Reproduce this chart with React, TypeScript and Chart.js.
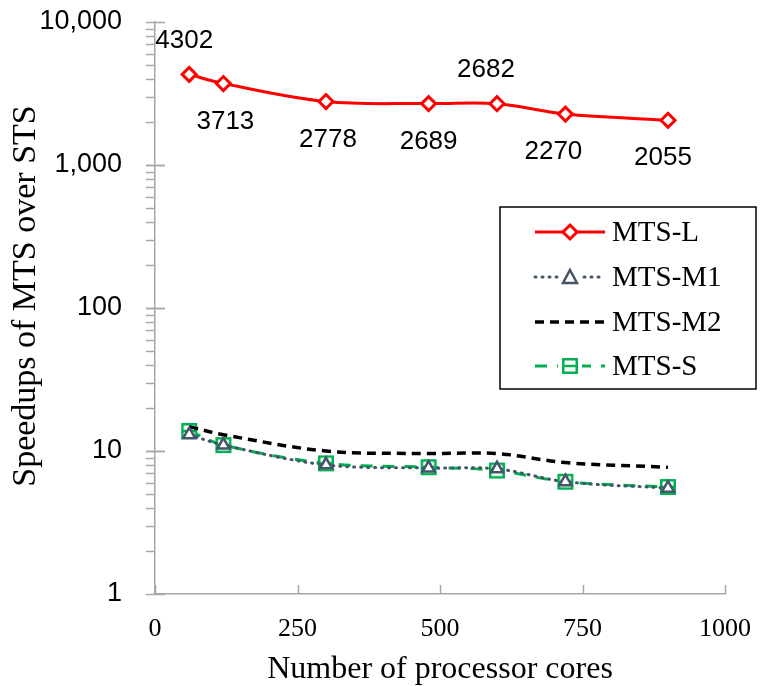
import React, { useEffect, useRef } from "react";
import { Chart, registerables } from "chart.js";

Chart.register(...registerables);

const cores = [60, 120, 300, 480, 600, 720, 900];
const mtsL = [4302, 3713, 2778, 2689, 2682, 2270, 2055];
const mtsM1 = [13, 11, 8, 7.6, 7.5, 6.1, 5.5];
const mtsM2 = [14.8, 13, 10, 9.6, 9.6, 8.3, 7.7];
const mtsS = [13.8, 11, 8.2, 7.7, 7.3, 6.1, 5.6];
const seriesNames = ["MTS-L", "MTS-M1", "MTS-M2", "MTS-S"];
const xTicks = [0, 250, 500, 750, 1000];
const yMajorTicks = [1, 10, 100, 1000, 10000];

// label placement for MTS-L values (style only)
const labelAbove = [true, false, false, false, true, false, false];
const labelDx = [-5, 2, 2, 0, -11, -12, -5];

const RED = "#FF0000";
const SLATE = "#44546A";
const GREEN = "#00B050";
const AXIS = "#A6A6A6";
const SERIF = "'Liberation Serif', 'Times New Roman', serif";
const SANS = "'Liberation Sans', Arial, sans-serif";

function makeSquareMarker(): HTMLCanvasElement {
  const c = document.createElement("canvas");
  c.width = 18;
  c.height = 18;
  const ctx = c.getContext("2d")!;
  ctx.fillStyle = "#fff";
  ctx.fillRect(2, 2, 14, 14);
  ctx.strokeStyle = GREEN;
  ctx.lineWidth = 2.5;
  ctx.strokeRect(2.25, 2.25, 13.5, 13.5);
  ctx.beginPath();
  ctx.moveTo(2, 9);
  ctx.lineTo(16, 9);
  ctx.stroke();
  return c;
}

export default function App() {
  const ref = useRef<HTMLCanvasElement>(null);
  useEffect(() => {
    const sq = makeSquareMarker();

    const axisTicksPlugin = {
      id: "axisTicks",
      afterDraw(chart: any) {
        const ctx = chart.ctx;
        const y = chart.scales.y;
        const x = chart.scales.x;
        const area = chart.chartArea;
        ctx.save();
        ctx.strokeStyle = AXIS;
        ctx.lineWidth = 1.5;
        for (let d = 1; d < 10000; d *= 10) {
          for (let k = 1; k <= 10; k++) {
            const v = d * k;
            const py = Math.round(y.getPixelForValue(v)) + 0.5;
            const major = yMajorTicks.includes(v);
            ctx.beginPath();
            ctx.moveTo(area.left - 9, py);
            ctx.lineTo(area.left + (major ? 10 : 0), py);
            ctx.stroke();
          }
        }
        xTicks.forEach((t) => {
          const px = Math.round(x.getPixelForValue(t)) + 0.5;
          ctx.beginPath();
          ctx.moveTo(px, area.bottom);
          ctx.lineTo(px, area.bottom - 9);
          ctx.stroke();
        });
        ctx.restore();
      },
    };

    const labelsPlugin = {
      id: "valueLabels",
      afterDatasetsDraw(chart: any) {
        const ctx = chart.ctx;
        const meta = chart.getDatasetMeta(0);
        ctx.save();
        ctx.font = `26px ${SANS}`;
        ctx.fillStyle = "#000";
        ctx.textAlign = "center";
        ctx.textBaseline = "middle";
        meta.data.forEach((pt: any, i: number) => {
          const dy = labelAbove[i] ? -34 : 38;
          ctx.fillText(String(mtsL[i]), pt.x + labelDx[i], pt.y + dy);
        });
        ctx.restore();
      },
    };

    const yTitlePlugin = {
      id: "yTitle",
      afterDraw(chart: any) {
        const ctx = chart.ctx;
        const area = chart.chartArea;
        ctx.save();
        ctx.translate(26, (area.top + area.bottom) / 2 - 12);
        ctx.rotate(-Math.PI / 2);
        ctx.font = `34px ${SERIF}`;
        ctx.fillStyle = "#000";
        ctx.textAlign = "center";
        ctx.textBaseline = "middle";
        ctx.fillText("Speedups of MTS over STS", 0, 0);
        ctx.restore();
      },
    };

    const legendPlugin = {
      id: "customLegend",
      afterDraw(chart: any) {
        const ctx = chart.ctx;
        const bx = 500;
        const by = 207;
        const bw = 256;
        const bh = 182;
        ctx.save();
        ctx.fillStyle = "#fff";
        ctx.fillRect(bx, by, bw, bh);
        ctx.strokeStyle = "#000";
        ctx.lineWidth = 1.5;
        ctx.strokeRect(bx, by, bw, bh);
        const rowY = [232, 277, 322, 366];
        const x0 = 535;
        const x1 = 605;
        const cx = (x0 + x1) / 2;
        chart.data.datasets.forEach((ds: any, i: number) => {
          const yy = rowY[i];
          ctx.beginPath();
          ctx.setLineDash(ds.borderDash || []);
          ctx.lineCap = ds.borderCapStyle || "butt";
          ctx.strokeStyle = ds.borderColor;
          ctx.lineWidth = ds.borderWidth;
          ctx.moveTo(x0, yy);
          ctx.lineTo(x1, yy);
          ctx.stroke();
          ctx.setLineDash([]);
          ctx.lineCap = "butt";
          if (i === 0) {
            ctx.beginPath();
            ctx.moveTo(cx, yy - 7);
            ctx.lineTo(cx + 7, yy);
            ctx.lineTo(cx, yy + 7);
            ctx.lineTo(cx - 7, yy);
            ctx.closePath();
            ctx.fillStyle = "#fff";
            ctx.fill();
            ctx.strokeStyle = RED;
            ctx.lineWidth = 3;
            ctx.stroke();
          } else if (i === 1) {
            ctx.fillStyle = "#fff";
            ctx.fillRect(cx - 10, yy - 9, 20, 18);
            ctx.beginPath();
            ctx.moveTo(cx, yy - 7);
            ctx.lineTo(cx + 7, yy + 6);
            ctx.lineTo(cx - 7, yy + 6);
            ctx.closePath();
            ctx.strokeStyle = SLATE;
            ctx.lineWidth = 2.5;
            ctx.stroke();
          } else if (i === 3) {
            ctx.fillStyle = "#fff";
            ctx.fillRect(cx - 12, yy - 10, 24, 20);
            ctx.drawImage(sq, cx - 9, yy - 9);
          }
          ctx.fillStyle = "#000";
          ctx.font = `29px ${SERIF}`;
          ctx.textAlign = "left";
          ctx.textBaseline = "middle";
          ctx.fillText(ds.label, 612, yy + 1);
        });
        ctx.restore();
      },
    };

    const mk = (arr: number[]) => arr.map((v, i) => ({ x: cores[i], y: v }));

    const chart = new Chart(ref.current!, {
      type: "line",
      data: {
        datasets: [
          {
            label: seriesNames[0],
            data: mk(mtsL),
            borderColor: RED,
            borderWidth: 3,
            pointStyle: "rectRot",
            pointRadius: 7,
            pointBorderWidth: 3,
            pointBackgroundColor: "#fff",
            pointBorderColor: RED,
            tension: 0.35,
          },
          {
            label: seriesNames[1],
            data: mk(mtsM1),
            borderColor: SLATE,
            borderWidth: 3,
            borderDash: [1, 6],
            borderCapStyle: "round",
            pointStyle: "triangle",
            pointRadius: 7,
            pointBorderWidth: 2.5,
            pointBackgroundColor: "#fff",
            pointBorderColor: SLATE,
            tension: 0.35,
          },
          {
            label: seriesNames[2],
            data: mk(mtsM2),
            borderColor: "#000",
            borderWidth: 3.5,
            borderDash: [9, 6],
            pointRadius: 0,
            tension: 0.35,
          },
          {
            label: seriesNames[3],
            data: mk(mtsS),
            borderColor: GREEN,
            borderWidth: 3,
            borderDash: [12, 10],
            pointStyle: sq,
            pointRadius: 9,
            tension: 0.35,
          },
        ] as any,
      },
      options: {
        animation: false,
        responsive: false,
        layout: { padding: { top: 22, right: 44, left: 0, bottom: 0 } },
        plugins: { legend: { display: false }, tooltip: { enabled: false } },
        scales: {
          x: {
            type: "linear",
            min: 0,
            max: 1000,
            afterBuildTicks: (s: any) => {
              s.ticks = xTicks.map((v) => ({ value: v }));
            },
            afterFit: (s: any) => {
              s.height = 92;
              s.paddingLeft = 0;
              s.paddingRight = 0;
            },
            grid: { display: false, drawTicks: false },
            border: { display: true, color: AXIS, width: 1.5 },
            ticks: {
              color: "#000",
              font: { family: SERIF, size: 26 },
              padding: 20,
              maxRotation: 0,
              autoSkip: false,
              callback: (v: any) => String(v),
            },
            title: {
              display: true,
              text: "Number of processor cores",
              color: "#000",
              font: { family: SERIF, size: 32 },
              padding: { top: 0, bottom: -3 },
            },
          },
          y: {
            type: "logarithmic",
            min: 1,
            max: 10000,
            afterBuildTicks: (s: any) => {
              s.ticks = yMajorTicks.map((v) => ({ value: v, major: true }));
            },
            afterFit: (s: any) => {
              s.width = 155;
              s.paddingTop = 0;
              s.paddingBottom = 0;
            },
            grid: { display: false, drawTicks: false },
            border: { display: true, color: AXIS, width: 1.5 },
            ticks: {
              color: "#000",
              font: { family: SANS, size: 27 },
              padding: 33,
              autoSkip: false,
              callback: (v: any) => Number(v).toLocaleString("en-US"),
            },
            title: { display: false },
          },
        },
      } as any,
      plugins: [axisTicksPlugin, labelsPlugin, legendPlugin, yTitlePlugin],
    });
    return () => chart.destroy();
  }, []);

  return (
    <div style={{ position: "fixed", left: 0, top: 0, width: 769, height: 686, background: "#fff" }}>
      <canvas ref={ref} width={769} height={686} style={{ width: 769, height: 686 }} />
    </div>
  );
}
